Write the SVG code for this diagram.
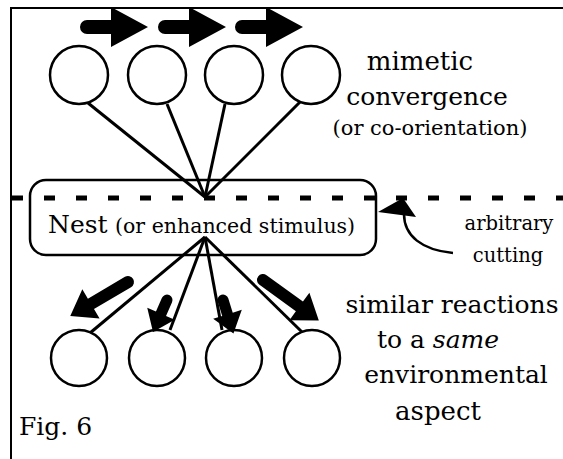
<svg xmlns="http://www.w3.org/2000/svg" width="563" height="459" viewBox="0 0 563 459">
<style>
text{font-family:'DejaVu Serif',serif;fill:#000}
.c{fill:#fff;stroke:#000;stroke-width:2.5}
.ln{stroke:#000;stroke-width:3;fill:none}
.ar{fill:#000}
</style>
<defs>
<path id="harrow" d="M0,-7 H24 V-20 L61,0 L24,20 V7 H0 A7,7 0 0 1 0,-7 Z"/>
</defs>
<rect width="563" height="459" fill="#fff"/>
<g id="frame">
<path d="M11,459 V8 H563" fill="none" stroke="#000" stroke-width="2"/>
</g>
<g id="nest">
<rect x="30" y="180" width="346" height="75" rx="16" ry="16" fill="#fff" stroke="#000" stroke-width="2.5"/>
<text x="48" y="233"><tspan font-size="25">Nest</tspan><tspan x="115" font-size="20.5">(or enhanced stimulus)</tspan></text>
</g>
<g id="cut-line">
<line x1="12" y1="198" x2="563" y2="198" stroke="#000" stroke-width="5" stroke-dasharray="11 21"/>
</g>
<g id="connectors">
<line class="ln" x1="88" y1="103" x2="205" y2="197"/>
<line class="ln" x1="167" y1="104" x2="205" y2="197"/>
<line class="ln" x1="225" y1="104" x2="205" y2="197"/>
<line class="ln" x1="300" y1="102" x2="205" y2="197"/>
<line class="ln" x1="90" y1="333" x2="205" y2="237"/>
<line class="ln" x1="170" y1="330" x2="205" y2="237"/>
<line class="ln" x1="222" y1="330" x2="205" y2="237"/>
<line class="ln" x1="302" y1="332" x2="205" y2="237"/>
</g>
<g id="top-circles">
<circle id="t1" class="c" cx="79" cy="75" r="29"/>
<circle id="t2" class="c" cx="157" cy="75" r="29"/>
<circle id="t3" class="c" cx="234" cy="75" r="29"/>
<circle id="t4" class="c" cx="311" cy="75" r="29"/>
</g>
<g id="top-arrows" class="ar">
<use href="#harrow" transform="translate(87,27)"/>
<use href="#harrow" transform="translate(165,27)"/>
<use href="#harrow" transform="translate(242,27)"/>
</g>
<g id="bottom-circles">
<circle id="b1" class="c" cx="79" cy="358" r="28"/>
<circle id="b2" class="c" cx="157" cy="358" r="28"/>
<circle id="b3" class="c" cx="234" cy="358" r="28"/>
<circle id="b4" class="c" cx="312" cy="358" r="28"/>
</g>
<g id="bottom-arrows" class="ar">
<path transform="translate(128,282) rotate(149.5)" d="M0,-6 H43 V-17 L67,0 L43,17 V6 H0 A6,6 0 0 1 0,-6 Z"/>
<path transform="translate(167,300) rotate(113.6)" d="M0,-5.5 H15 V-15 L35,0 L15,15 V5.5 H0 A5.5,5.5 0 0 1 0,-5.5 Z"/>
<path transform="translate(223,300) rotate(72.6)" d="M0,-5.5 H15 V-15 L35,0 L15,15 V5.5 H0 A5.5,5.5 0 0 1 0,-5.5 Z"/>
<path transform="translate(263,280) rotate(36)" d="M0,-6 H45 V-17 L69,0 L45,17 V6 H0 A6,6 0 0 1 0,-6 Z"/>
</g>
<g id="cutting-arrow">
<path d="M453,253 C422,250 404,236 404,214" fill="none" stroke="#000" stroke-width="2.5"/>
<polygon points="378,212 403,198 416,217" fill="#000"/>
</g>
<g id="labels" text-anchor="middle">
<text x="420" y="70" font-size="26">mimetic</text>
<text x="427" y="105" font-size="25">convergence</text>
<text x="430" y="135" font-size="21">(or co-orientation)</text>
<text x="509" y="230" font-size="19.5">arbitrary</text>
<text x="508" y="262" font-size="19.5">cutting</text>
<text x="452" y="313" font-size="25">similar reactions</text>
<text x="438" y="348" font-size="25">to a <tspan font-style="italic">same</tspan></text>
<text x="456" y="383" font-size="25">environmental</text>
<text x="438" y="420" font-size="26">aspect</text>
<text x="19" y="435" font-size="25" text-anchor="start">Fig. 6</text>
</g>
</svg>
